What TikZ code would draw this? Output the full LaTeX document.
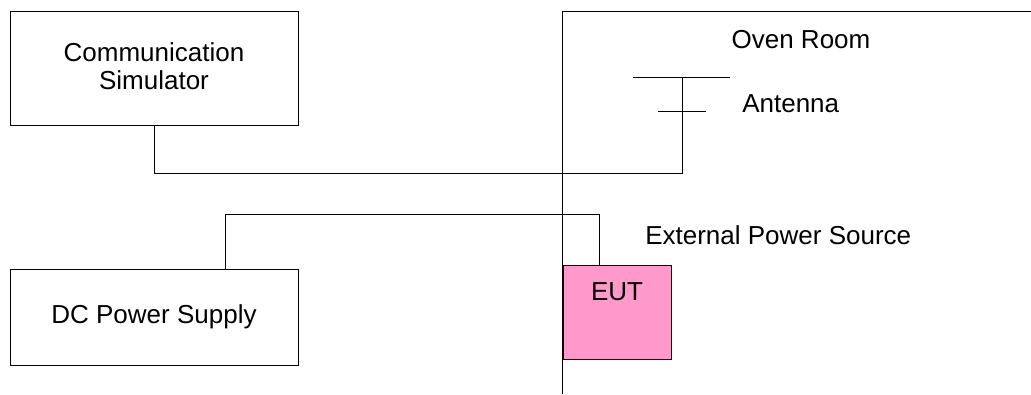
\documentclass[tikz,border=0pt]{standalone}
\usepackage{fontspec}
\setmainfont{Liberation Sans}
\usetikzlibrary{positioning}
\definecolor{eutpink}{HTML}{FF99CC}
\tikzset{
  txt/.style={font=\fontsize{19.5}{20.5}\selectfont},
  box/.style={draw, line width=0.75pt, inner sep=0pt, outer sep=0pt, align=center, txt},
  lbl/.style={inner sep=0pt, txt},
  wire/.style={line width=0.75pt},
}

\begin{document}
\begin{tikzpicture}[x=0.75pt, y=-0.75pt]
  \useasboundingbox (0,0) rectangle (1031,394);
  % equipos
  \node[box, minimum width=216pt, minimum height=85.5pt, text depth=3pt] (comsim) at (154,68) {Communication\\Simulator};
  \node[box, minimum width=216pt, minimum height=72pt] (dcps) at (154,317) {DC Power Supply};
  % oven room
  \draw[wire] (562,394) -- (562,11) -- (1031,11);
  \node[lbl] (oven) at (801,40) {Oven Room};
  % antena
  \coordinate (ant) at (682,77);
  \draw[wire] (633,77) -- (730,77) (658,111) -- (706,111);
  \node[lbl, anchor=west] (antlbl) at (742,104) {Antenna};
  % EUT
  \node[box, fill=eutpink, minimum width=81pt, minimum height=70.5pt,
        label={[anchor=north, inner sep=0pt, yshift=-12.75pt, txt]north:EUT}] (eut) at (617,312) {};
  \node[lbl, anchor=west] (extlbl) at (645,235) {External Power Source};
  % cables
  \draw[wire] (comsim.south) -- ++(0,48) -| (ant);
  \draw[wire] ([xshift=53.25pt]dcps.north) -- ++(0,-55) -| ([xshift=-13.5pt]eut.north);
\end{tikzpicture}
\end{document}
